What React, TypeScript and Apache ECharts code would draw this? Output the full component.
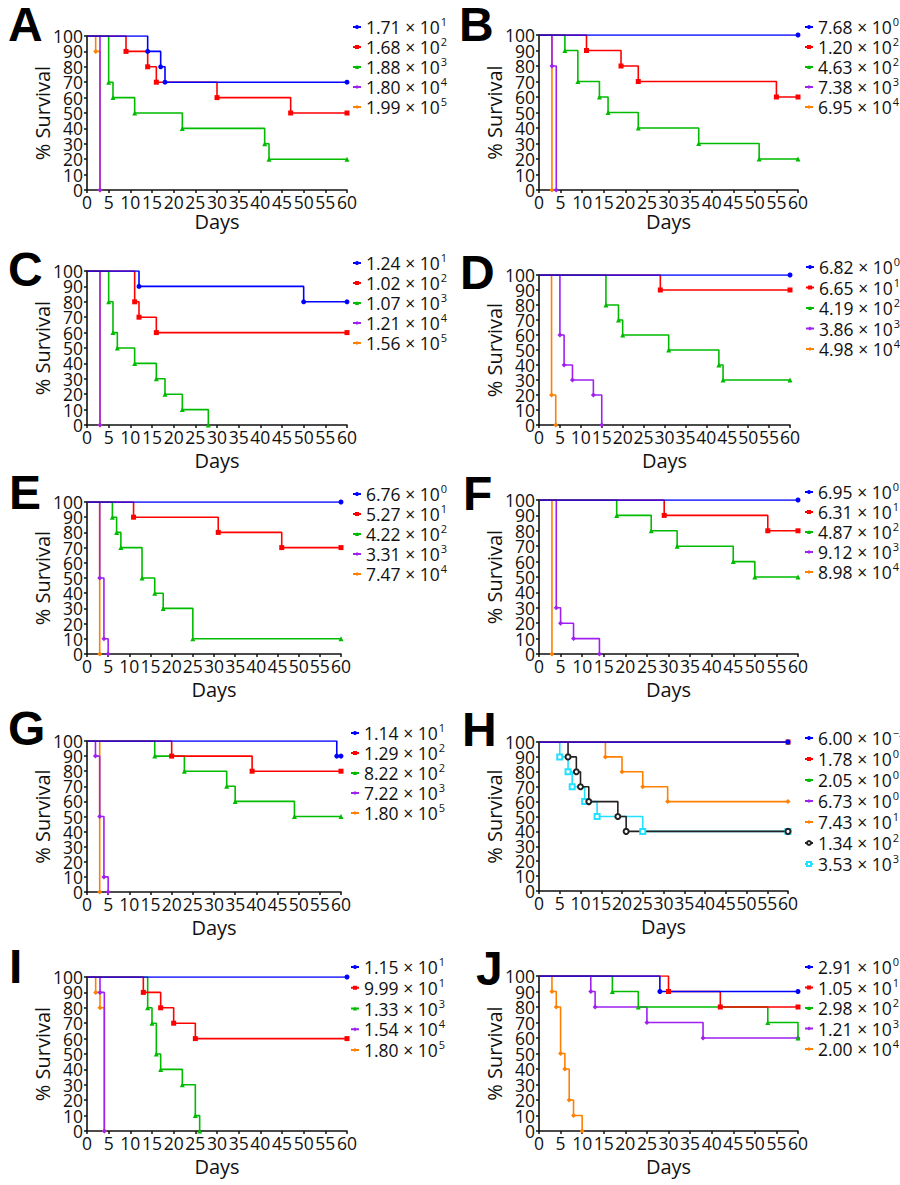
import React, { useEffect, useRef } from "react";
import * as echarts from "echarts";

const FONT = "'Open Sans', 'DejaVu Sans', sans-serif";
const INK = "#111111";

// Line colours and markers, in legend order
const colorBlue = "#0000ff";
const colorRed = "#ff0000";
const colorGreen = "#00bb00";
const colorPurple = "#a020f0";
const colorOrange = "#ff8000";
const colorBlack = "#222222";
const colorCyan = "#22e0ff";

const styles5 = [
  { color: colorBlue, symbol: "circle" },
  { color: colorRed, symbol: "rect" },
  { color: colorGreen, symbol: "triangle" },
  { color: colorPurple, symbol: "diamond" },
  { color: colorOrange, symbol: "diamond" },
];
const styles7 = [
  ...styles5,
  { color: colorBlack, symbol: "emptyCircle" },
  { color: colorCyan, symbol: "emptyRect" },
];

const panelLetters = ["A", "B", "C", "D", "E", "F", "G", "H", "I", "J"];

// Survival tick labels shown along each y axis
const survivalTicks = [0, 10, 20, 30, 40, 50, 60, 70, 80, 90, 100];

// Doses per panel: [mantissa, exponent]
const dosesA = [["1.71", "1"], ["1.68", "2"], ["1.88", "3"], ["1.80", "4"], ["1.99", "5"]];
const dosesB = [["7.68", "0"], ["1.20", "2"], ["4.63", "2"], ["7.38", "3"], ["6.95", "4"]];
const dosesC = [["1.24", "1"], ["1.02", "2"], ["1.07", "3"], ["1.21", "4"], ["1.56", "5"]];
const dosesD = [["6.82", "0"], ["6.65", "1"], ["4.19", "2"], ["3.86", "3"], ["4.98", "4"]];
const dosesE = [["6.76", "0"], ["5.27", "1"], ["4.22", "2"], ["3.31", "3"], ["7.47", "4"]];
const dosesF = [["6.95", "0"], ["6.31", "1"], ["4.87", "2"], ["9.12", "3"], ["8.98", "4"]];
const dosesG = [["1.14", "1"], ["1.29", "2"], ["8.22", "2"], ["7.22", "3"], ["1.80", "5"]];
const dosesH = [["6.00", "\u22122"], ["1.78", "0"], ["2.05", "0"], ["6.73", "0"], ["7.43", "1"], ["1.34", "2"], ["3.53", "3"]];
const dosesI = [["1.15", "1"], ["9.99", "1"], ["1.33", "3"], ["1.54", "4"], ["1.80", "5"]];
const dosesJ = [["2.91", "0"], ["1.05", "1"], ["2.98", "2"], ["1.21", "3"], ["2.00", "4"]];

// Kaplan-Meier curves per panel: [day, % survival] at each step
const curvesA = [
  [[0, 100], [14, 90], [17, 80], [18, 70], [60, 70]],
  [[0, 100], [9, 90], [14, 80], [16, 70], [30, 60], [47, 50], [60, 50]],
  [[0, 100], [5, 70], [6, 60], [11, 50], [22, 40], [41, 30], [42, 20], [60, 20]],
  [[0, 100], [3, 0]],
  [[0, 100], [2, 90], [3, 0]],
];
const curvesB = [
  [[0, 100], [60, 100]],
  [[0, 100], [11, 90], [19, 80], [23, 70], [55, 60], [60, 60]],
  [[0, 100], [6, 90], [9, 70], [14, 60], [16, 50], [23, 40], [37, 30], [51, 20], [60, 20]],
  [[0, 100], [3, 80], [4, 0]],
  [[0, 100], [3, 0]],
];
const curvesC = [
  [[0, 100], [12, 90], [50, 80], [60, 80]],
  [[0, 100], [11, 80], [12, 70], [16, 60], [60, 60]],
  [[0, 100], [5, 80], [6, 60], [7, 50], [11, 40], [16, 30], [18, 20], [22, 10], [28, 0]],
  [[0, 100], [3, 0]],
  [[0, 100], [3, 0]],
];
const curvesD = [
  [[0, 100], [60, 100]],
  [[0, 100], [29, 90], [60, 90]],
  [[0, 100], [16, 80], [19, 70], [20, 60], [31, 50], [43, 40], [44, 30], [60, 30]],
  [[0, 100], [5, 60], [6, 40], [8, 30], [13, 20], [15, 0]],
  [[0, 100], [3, 20], [4, 0]],
];
const curvesE = [
  [[0, 100], [60, 100]],
  [[0, 100], [11, 90], [31, 80], [46, 70], [60, 70]],
  [[0, 100], [6, 90], [7, 80], [8, 70], [13, 50], [16, 40], [18, 30], [25, 10], [60, 10]],
  [[0, 100], [3, 50], [4, 10], [5, 0]],
  [[0, 100], [3, 0]],
];
const curvesF = [
  [[0, 100], [60, 100]],
  [[0, 100], [29, 90], [53, 80], [60, 80]],
  [[0, 100], [18, 90], [26, 80], [32, 70], [45, 60], [50, 50], [60, 50]],
  [[0, 100], [4, 30], [5, 20], [8, 10], [14, 0]],
  [[0, 100], [3, 0]],
];
const curvesG = [
  [[0, 100], [59, 90], [60, 90]],
  [[0, 100], [20, 90], [39, 80], [60, 80]],
  [[0, 100], [16, 90], [23, 80], [33, 70], [35, 60], [49, 50], [60, 50]],
  [[0, 100], [2, 90], [3, 50], [4, 10], [5, 0]],
  [[0, 100], [3, 0]],
];
const curvesH = [
  [[0, 100], [60, 100]],
  [[0, 100], [60, 100]],
  [[0, 100], [60, 100]],
  [[0, 100], [60, 100]],
  [[0, 100], [16, 90], [20, 80], [25, 70], [31, 60], [60, 60]],
  [[0, 100], [7, 90], [9, 80], [10, 70], [12, 60], [19, 50], [21, 40], [60, 40]],
  [[0, 100], [5, 90], [7, 80], [8, 70], [11, 60], [14, 50], [25, 40], [60, 40]],
];
const curvesI = [
  [[0, 100], [60, 100]],
  [[0, 100], [13, 90], [17, 80], [20, 70], [25, 60], [60, 60]],
  [[0, 100], [14, 80], [15, 70], [16, 50], [17, 40], [22, 30], [25, 10], [26, 0]],
  [[0, 100], [3, 90], [4, 0]],
  [[0, 100], [2, 90], [3, 80], [4, 0]],
];
const curvesJ = [
  [[0, 100], [28, 90], [60, 90]],
  [[0, 100], [30, 90], [42, 80], [60, 80]],
  [[0, 100], [17, 90], [23, 80], [53, 70], [60, 60]],
  [[0, 100], [12, 90], [13, 80], [25, 70], [38, 60], [60, 60]],
  [[0, 100], [3, 90], [4, 80], [5, 50], [6, 40], [7, 20], [8, 10], [10, 0]],
];

const panelDoses = [dosesA, dosesB, dosesC, dosesD, dosesE, dosesF, dosesG, dosesH, dosesI, dosesJ];
const panelCurves = [curvesA, curvesB, curvesC, curvesD, curvesE, curvesF, curvesG, curvesH, curvesI, curvesJ];

// Placement of each panel on the page
const layouts = [
  { x: 87, y: 36, w: 260, h: 154, lx: 352, ly: 16, gap: 0, tx: 8, ty: 24, dg: 20 },
  { x: 539, y: 35, w: 259, h: 155, lx: 804, ly: 16, gap: 0, tx: 459, ty: 24, dg: 20 },
  { x: 87, y: 271, w: 260, h: 154, lx: 352, ly: 252, gap: 0, tx: 8, ty: 269, dg: 25 },
  { x: 539, y: 275, w: 251, h: 150, lx: 805, ly: 256, gap: 0.5, tx: 460, ty: 272, dg: 25 },
  { x: 87, y: 502, w: 254, h: 152, lx: 352, ly: 483, gap: 0, tx: 9, ty: 492, dg: 25 },
  { x: 539, y: 500, w: 259, h: 154, lx: 804, ly: 481, gap: 0, tx: 463, ty: 493, dg: 25 },
  { x: 87, y: 741, w: 254, h: 151, lx: 350, ly: 722, gap: 0, tx: 8, ty: 728, dg: 25 },
  { x: 539, y: 742, w: 249, h: 149, lx: 804, ly: 727, gap: 1, tx: 462, ty: 729, dg: 25 },
  { x: 87, y: 977, w: 260, h: 154, lx: 350, ly: 956, gap: 0.75, tx: 9, ty: 966, dg: 25 },
  { x: 539, y: 976, w: 259, h: 155, lx: 804, ly: 956, gap: 0.5, tx: 476, ty: 968, dg: 25 },
];

function buildOption() {
  const labelMap: Record<string, string> = {};
  const series: any[] = [];
  const legends: any[] = [];

  panelLetters.forEach((letter, i) => {
    const doses = panelDoses[i];
    const curves = panelCurves[i];
    const styles = curves.length > 5 ? styles7 : styles5;
    const names = doses.map((d, k) => `${letter}-${k}`);
    doses.forEach((d, k) => {
      labelMap[names[k]] = `{m|${d[0]} \u00d7 10}{s|${d[1]}}`;
    });

    // y tick labels, placed on the axis through the axis scale
    series.push({
      type: "custom",
      name: `${letter}-ticks`,
      xAxisIndex: i,
      yAxisIndex: i,
      silent: true,
      clip: false,
      data: survivalTicks.map((v) => [0, v]),
      renderItem: (params: any, api: any) => {
        const v = api.value(1);
        const pt = api.coord([0, v]);
        return {
          type: "text",
          x: pt[0] - 4,
          y: pt[1],
          style: {
            text: String(v),
            align: "right",
            verticalAlign: "middle",
            fontSize: 17.5,
            lineHeight: 14,
            fontFamily: FONT,
            fill: INK,
          },
        };
      },
    });

    // draw the last group first so the first one sits on top
    for (let k = curves.length - 1; k >= 0; k--) {
      const st = styles[k];
      series.push({
        type: "line",
        name: names[k],
        xAxisIndex: i,
        yAxisIndex: i,
        step: "end",
        symbol: st.symbol,
        symbolSize: 5,
        showSymbol: true,
        silent: true,
        emphasis: { disabled: true },
        lineStyle: { color: st.color, width: 1.6 },
        itemStyle: { color: st.color, borderColor: st.color, borderWidth: st.symbol.startsWith("empty") ? 1 : 0 },
        data: curves[k].map((p, j) => (j === 0 ? { value: p, symbol: "none" } : p)),
      });
    }
    const l = layouts[i];
    legends.push({
      data: names,
      orient: "vertical",
      left: l.lx,
      top: l.ly,
      padding: 0,
      itemGap: l.gap,
      itemWidth: 8,
      itemHeight: 5,
      selectedMode: false,
      formatter: (name: string) => labelMap[name],
      textStyle: {
        rich: {
          m: { fontSize: 17.5, fontFamily: FONT, color: INK, lineHeight: 22 },
          s: { fontSize: 11, fontFamily: FONT, color: INK, lineHeight: 11, verticalAlign: "top", padding: [0, 0, 0, 1] },
        },
      },
    });
  });

  const axisCommon = {
    type: "value",
    nameLocation: "middle",
    nameTextStyle: { fontSize: 20, fontFamily: FONT, color: INK },
    axisLine: { show: true, onZero: false, lineStyle: { color: INK, width: 1.6 } },
    axisTick: { show: true, length: 3, lineStyle: { color: INK, width: 1.5 } },
    splitLine: { show: false },
  };

  return {
    animation: false,
    backgroundColor: "#ffffff",
    grid: layouts.map((l) => ({ left: l.x, top: l.y, width: l.w, height: l.h, containLabel: false })),
    xAxis: layouts.map((l, i) => ({
      ...axisCommon,
      gridIndex: i,
      min: 0,
      max: 60,
      interval: 5,
      name: "Days",
      nameGap: l.dg,
      axisLabel: {
        fontSize: 17.5,
        fontFamily: FONT,
        color: INK,
        margin: 3,
        showMinLabel: true,
        showMaxLabel: true,
        hideOverlap: false,
      },
    })),
    yAxis: layouts.map((l, i) => ({
      ...axisCommon,
      gridIndex: i,
      min: 0,
      max: 100,
      interval: 10,
      name: "% Survival",
      nameGap: 35,
      axisLabel: { show: false },
    })),
    legend: legends,
    series,
    graphic: layouts.map((l, i) => ({
      type: "text",
      x: l.tx,
      y: l.ty,
      silent: true,
      style: {
        text: panelLetters[i],
        fontSize: 48,
        fontWeight: "bold",
        fontFamily: "'Liberation Sans', Arial, sans-serif",
        fill: "#000000",
        align: "left",
        verticalAlign: "middle",
      },
    })),
  };
}

export default function App() {
  const ref = useRef<HTMLDivElement>(null);
  useEffect(() => {
    if (!ref.current) return;
    const chart = echarts.init(ref.current, undefined, { renderer: "svg" });
    chart.setOption(buildOption() as any);
    return () => chart.dispose();
  }, []);
  return (
    <div
      ref={ref}
      style={{ position: "absolute", left: 0, top: 0, width: 900, height: 1185, background: "#fff" }}
    />
  );
}
